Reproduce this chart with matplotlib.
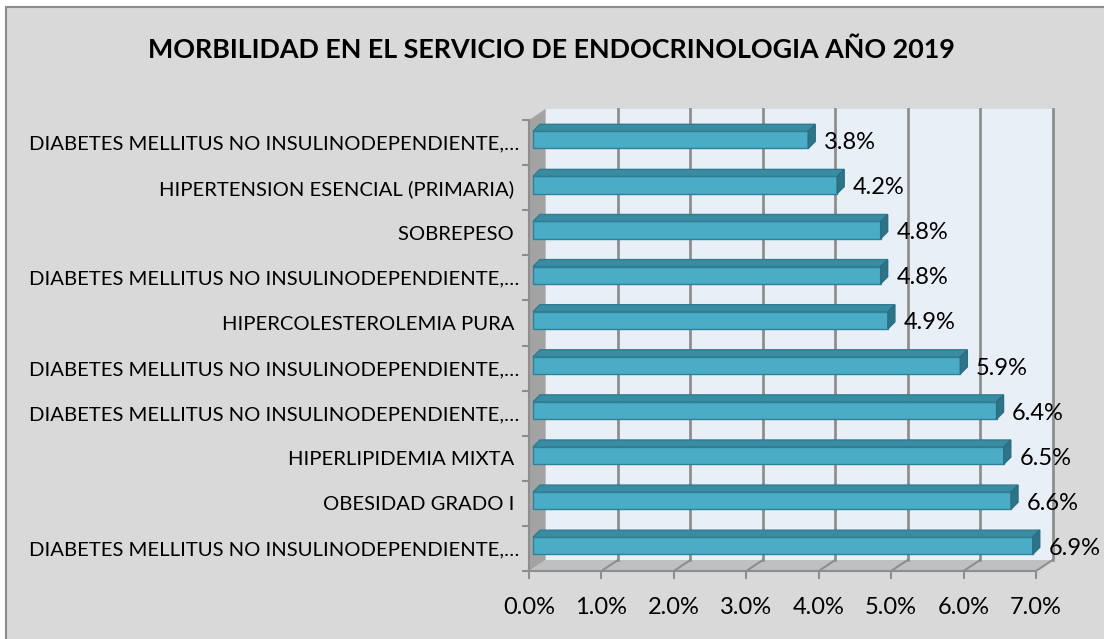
import numpy as np
import matplotlib.pyplot as plt
from matplotlib.patches import Rectangle, Polygon

plt.rcParams['font.family'] = ['Lato', 'DejaVu Sans']

# datos (de arriba hacia abajo)
categorias = [
    "DIABETES MELLITUS NO INSULINODEPENDIENTE,\u2026",
    "HIPERTENSION ESENCIAL (PRIMARIA) ",
    "SOBREPESO ",
    "DIABETES MELLITUS NO INSULINODEPENDIENTE,\u2026",
    "HIPERCOLESTEROLEMIA PURA ",
    "DIABETES MELLITUS NO INSULINODEPENDIENTE,\u2026",
    "DIABETES MELLITUS NO INSULINODEPENDIENTE,\u2026",
    "HIPERLIPIDEMIA MIXTA ",
    "OBESIDAD GRADO I ",
    "DIABETES MELLITUS NO INSULINODEPENDIENTE,\u2026",
]
valores = [3.8, 4.2, 4.8, 4.8, 4.9, 5.9, 6.4, 6.5, 6.6, 6.9]
xticks = [0, 1, 2, 3, 4, 5, 6, 7]
titulo = "MORBILIDAD EN EL SERVICIO DE ENDOCRINOLOGIA AÑO 2019"

W, H = 1104, 639
fig = plt.figure(figsize=(W / 100, H / 100), dpi=100)
fig.patch.set_facecolor('white')

# fondo del area del grafico (sigue mas alla del borde derecho e inferior)
fig.patches.append(Rectangle((6 / W, -10 / H), 1110 / W, (H - 7 + 10) / H,
                             transform=fig.transFigure, facecolor='#D9D9D9',
                             edgecolor='#8C8C8C', lw=1.5, zorder=-10))

# plano frontal del grafico 3D (en pixeles)
L, R, T, B = 529, 1036, 120, 571
ax = fig.add_axes([L / W, (H - B) / H, (R - L) / W, (B - T) / H])
ax.set_xlim(0, 7)
ax.set_ylim(0, 10)
ax.patch.set_visible(False)
for s in ax.spines.values():
    s.set_visible(False)

ux = (R - L) / 7.0
uy = (B - T) / 10.0
DX, DY = 16.5 / ux, 11 / uy      # profundidad de las paredes
BDX, BDY = 7 / ux, 7 / uy        # profundidad de las barras
x0 = 4 / ux
grid_c = '#8E8E8E'

# pared del fondo, pared izquierda y piso
ax.add_patch(Rectangle((DX, DY), 7, 10, facecolor='#E9EFF7', edgecolor='none', zorder=1, clip_on=False))
ax.add_patch(Polygon([(0, 0), (0, 10), (DX, 10 + DY), (DX, DY)], closed=True,
                     facecolor='#A3A3A3', edgecolor='none', zorder=1, clip_on=False))
ax.add_patch(Polygon([(0, 0), (7, 0), (7 + DX, DY), (DX, DY)], closed=True,
                     facecolor='#BEC0C2', edgecolor='none', zorder=1, clip_on=False))

for k in xticks[1:]:
    ax.plot([k + DX, k + DX], [DY, 10 + DY], color=grid_c, lw=2, zorder=2, clip_on=False)
    ax.plot([k, k + DX], [0, DY], color=grid_c, lw=1.5, zorder=2, clip_on=False)
ax.plot([0, 7], [0, 0], color=grid_c, lw=1.5, zorder=2, clip_on=False)
ax.plot([0, 0], [0, 10], color=grid_c, lw=1.5, zorder=2, clip_on=False)

# barras
n = len(valores)
h = 0.38
for i, v in enumerate(valores):
    yc = n - 0.5 - i + 0.06
    yb, yt = yc - h / 2, yc + h / 2
    ax.barh(yc, v, left=x0, height=h, color='#4BACC6', edgecolor='#2F8096', lw=1, zorder=5)
    x1 = x0 + v
    ax.add_patch(Polygon([(x0, yt), (x1, yt), (x1 + BDX, yt + BDY), (x0 + BDX, yt + BDY)],
                         closed=True, facecolor='#3A8CA3', edgecolor='#2F7D92', lw=1, zorder=5, clip_on=False))
    ax.add_patch(Polygon([(x1, yb), (x1, yt), (x1 + BDX, yt + BDY), (x1 + BDX, yb + BDY)],
                         closed=True, facecolor='#2E7488', edgecolor='#2A6E82', lw=1, zorder=5, clip_on=False))
    ax.text(x1 + BDX + 0.12, n - 0.5 - i, f"{v:.1f}%", ha='left', va='center',
            fontsize=17, color='black', zorder=6)

# ejes
ax.set_xticks(xticks)
ax.set_xticklabels([f"{k:.1f}%" for k in xticks], fontsize=17)
ax.tick_params(axis='x', length=6, width=1.5, color=grid_c, pad=13)
ax.set_yticks([n - 0.5 - i for i in range(n)])
ax.set_yticklabels(categorias, fontsize=14.6)
ax.set_yticks(np.arange(0, n + 1), minor=True)
ax.tick_params(axis='y', which='major', length=0, pad=7)
ax.tick_params(axis='y', which='minor', length=5, width=1.5, color=grid_c)

fig.text(551 / W, (H - 50) / H, titulo, ha='center', va='center',
         fontsize=19.4, fontweight='bold')

fig.savefig('out.png', dpi=100)
